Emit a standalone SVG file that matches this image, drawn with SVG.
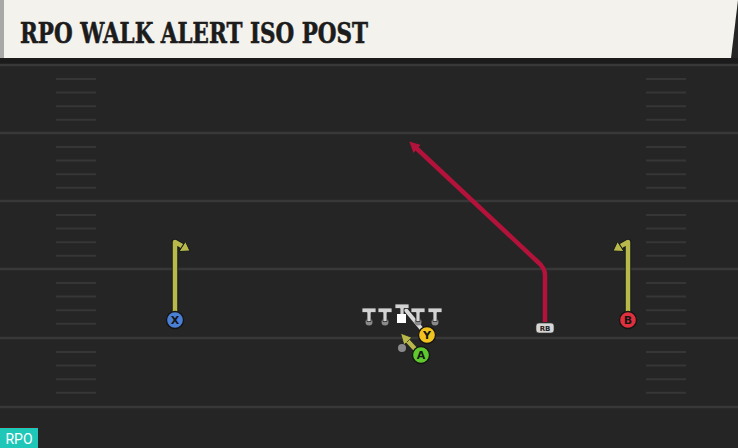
<svg xmlns="http://www.w3.org/2000/svg" width="738" height="448" viewBox="0 0 738 448">
<style>
.yl{stroke:#383838;stroke-width:2.5}
.hm{stroke:#363636;stroke-width:2}
.ol{fill:#d2d2d2;stroke:#2a2a2a;stroke-width:0.8}
.dot{fill:#8a8a8a}
.pl{stroke:#141414;stroke-width:1.3}
.pt{font-family:"DejaVu Sans",sans-serif;font-weight:bold;font-size:11px;fill:#161616;text-anchor:middle}
.yr{fill:none;stroke:#b8b94a;stroke-width:4.5;stroke-linejoin:round}
.rr{fill:none;stroke:#b3123a;stroke-width:4.5;stroke-linejoin:round}
.sh{fill:none;stroke:#151a1a;stroke-width:6.5;stroke-linejoin:round}
.ah{fill:#b8b94a;stroke:#151a1a;stroke-width:1}
</style>
<defs>
<marker id="ay" viewBox="0 0 10 10" refX="4" refY="5" markerWidth="2.4" markerHeight="2.4" orient="auto" markerUnits="strokeWidth"><path d="M0,0 L10,5 L0,10 z" fill="#b8b94a" stroke="#151a1a" stroke-width="0.6"/></marker>
<marker id="ar" viewBox="0 0 10 10" refX="4" refY="5" markerWidth="2.4" markerHeight="2.4" orient="auto" markerUnits="strokeWidth"><path d="M0,0 L10,5 L0,10 z" fill="#b3123a"/></marker>
<g id="hashes">
<line x1="56" y1="0" x2="96" y2="0"/>
<line x1="56" y1="13.6" x2="96" y2="13.6"/>
<line x1="56" y1="27.2" x2="96" y2="27.2"/>
<line x1="56" y1="40.8" x2="96" y2="40.8"/>
</g>
</defs>
<rect x="0" y="0" width="738" height="448" fill="#252525"/>
<rect x="0" y="58" width="738" height="6" fill="#1b1b1b"/>
<g id="field">
<g class="yl">
<line x1="0" y1="65" x2="738" y2="65"/>
<line x1="0" y1="133" x2="738" y2="133"/>
<line x1="0" y1="201" x2="738" y2="201"/>
<line x1="0" y1="269" x2="738" y2="269"/>
<line x1="0" y1="338" x2="738" y2="338"/>
<line x1="0" y1="407" x2="738" y2="407"/>
</g>
<g class="hm">
<use href="#hashes" y="79"/>
<use href="#hashes" y="147"/>
<use href="#hashes" y="215"/>
<use href="#hashes" y="283"/>
<use href="#hashes" y="352"/>
<use href="#hashes" x="590" y="79"/>
<use href="#hashes" x="590" y="147"/>
<use href="#hashes" x="590" y="215"/>
<use href="#hashes" x="590" y="283"/>
<use href="#hashes" x="590" y="352"/>
</g>
</g>
<g id="header">
<path d="M0,0 L738,0 L731,58 L0,58 z" fill="#f4f2ec"/>
<rect x="0" y="0" width="4" height="58" fill="#a8a8a8"/>
<text x="20" y="43" font-family="DejaVu Serif,serif" font-weight="bold" font-size="28" fill="#1c1c1c" stroke="#1c1c1c" stroke-width="0.6" textLength="348" lengthAdjust="spacingAndGlyphs">RPO WALK ALERT ISO POST</text>
</g>
<g id="connectors">
<path class="sh" d="M175,313 L175,242 L182,246"/>
<path class="yr" d="M175,313 L175,242 L182,246"/>
<polygon class="ah" points="190,251 179,251.5 185.5,241.5"/>
<path class="sh" d="M628,313 L628,242 L621,246"/>
<path class="yr" d="M628,313 L628,242 L621,246"/>
<polygon class="ah" points="613,251 624,251.5 617.5,241.5"/>
<path class="rr" d="M545,322 L545,275 Q545,269 540,264 L414,146" marker-end="url(#ar)"/>
<path class="yr" d="M416,350 L405,338" marker-end="url(#ay)"/>
<line x1="425" y1="333" x2="405" y2="309" stroke="#d9d9d9" stroke-width="4"/>
</g>
<g id="ol">
<g id="lt">
<circle class="dot" cx="369" cy="322" r="3.5"/>
<path class="ol" d="M362,308 h14 v4.5 h-5 v9 h-4 v-9 h-5 z"/>
</g>
<g id="lg">
<circle class="dot" cx="385" cy="322" r="3.5"/>
<path class="ol" d="M378,308 h14 v4.5 h-5 v9 h-4 v-9 h-5 z"/>
</g>
<g id="c">
<path class="ol" d="M395,304 h14 v4.5 h-5 v7 h-4 v-7 h-5 z"/>
<rect x="397" y="314" width="9" height="9" fill="#ffffff"/>
</g>
<g id="rg">
<circle class="dot" cx="418" cy="322" r="3.5"/>
<path class="ol" d="M411,308 h14 v4.5 h-5 v9 h-4 v-9 h-5 z"/>
</g>
<g id="rt">
<circle class="dot" cx="435" cy="322" r="3.5"/>
<path class="ol" d="M428,308 h14 v4.5 h-5 v9 h-4 v-9 h-5 z"/>
</g>
</g>
<g id="qb"><circle cx="402" cy="348" r="4" fill="#8a8a8a"/></g>
<g id="x"><circle class="pl" cx="175" cy="320" r="8.5" fill="#4a7fd6"/><text class="pt" x="175" y="324">X</text></g>
<g id="b"><circle class="pl" cx="628" cy="320" r="8.5" fill="#e0303e"/><text class="pt" x="628" y="324">B</text></g>
<g id="y"><circle class="pl" cx="427" cy="335" r="8.5" fill="#f2c21e"/><text class="pt" x="427" y="339">Y</text></g>
<g id="a"><circle class="pl" cx="421" cy="355" r="8.5" fill="#5ec82e"/><text class="pt" x="421" y="359">A</text></g>
<g id="rb"><rect x="536" y="323" width="18" height="10" rx="3" fill="#d6d6d6" stroke="#333" stroke-width="0.6"/><text x="545" y="331" font-family="DejaVu Sans,sans-serif" font-weight="bold" font-size="7" fill="#222" text-anchor="middle">RB</text></g>
<g id="tag">
<rect x="0" y="427" width="38" height="1" fill="#4a1a1a"/>
<rect x="0" y="428" width="38" height="20" fill="#1fc7b9"/>
<text x="19" y="444" font-family="Roboto,sans-serif" font-size="14" fill="#ffffff" text-anchor="middle">RPO</text>
</g>
</svg>
